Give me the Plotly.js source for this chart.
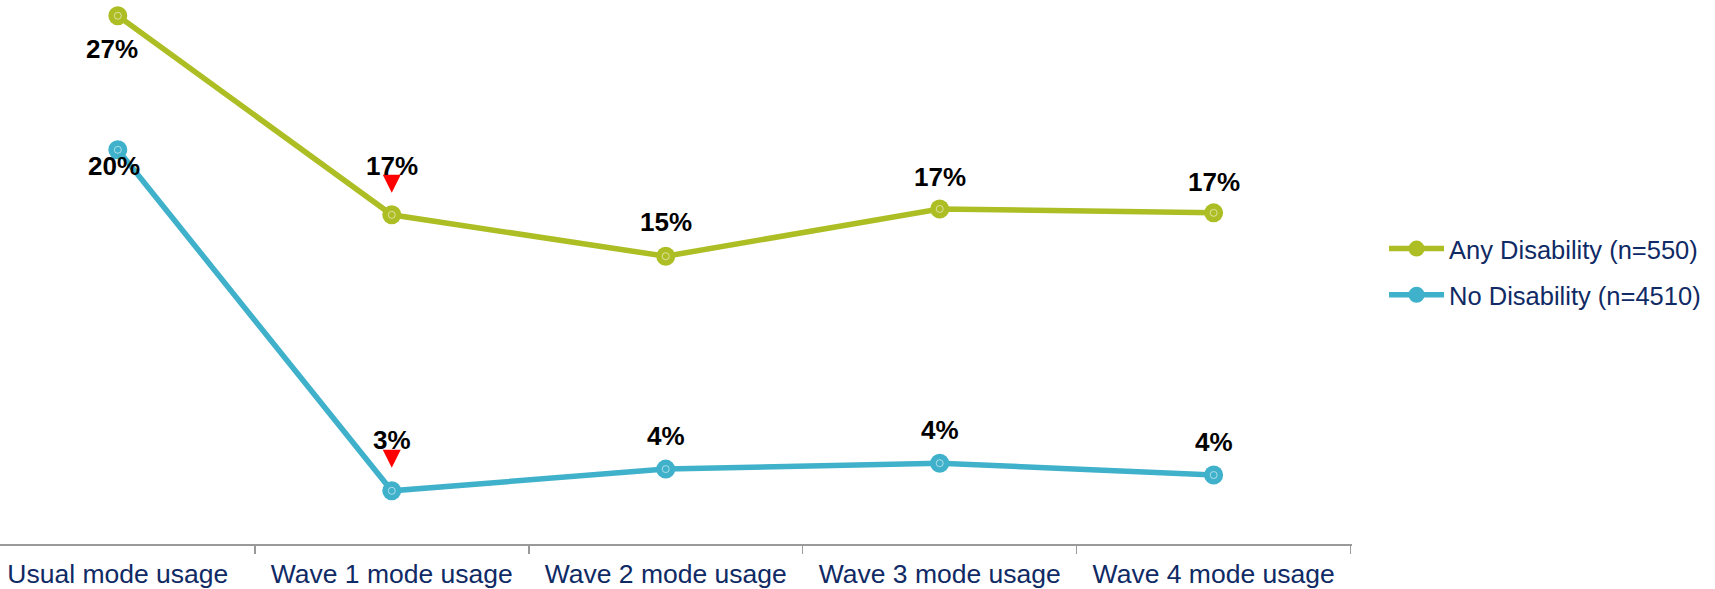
<!DOCTYPE html>
<html>
<head>
<meta charset="utf-8">
<script src="https://cdn.plot.ly/plotly-3.0.1.min.js"></script>
<style>
  html, body { margin: 0; padding: 0; background: #ffffff; }
  #chart { width: 1715px; height: 589px; }
</style>
</head>
<body>
<div id="chart"></div>
<script>
// ---- data ----
const categories = ['Usual mode usage', 'Wave 1 mode usage', 'Wave 2 mode usage', 'Wave 3 mode usage', 'Wave 4 mode usage'];
const anyDisability = [27.0, 16.9, 14.8, 17.2, 17.0];
const noDisability = [20.2, 2.9, 4.0, 4.3, 3.7];
const anyLabels = ['27%', '17%', '15%', '17%', '17%'];
const noLabels = ['20%', '3%', '4%', '4%', '4%'];
const anySigDown = [false, true, false, false, false];
const noSigDown = [false, true, false, false, false];
const seriesNames = ['Any Disability (n=550)', 'No Disability (n=4510)'];

// ---- style ----
const greenC = '#acbe24';
const blueC = '#40b1ca';
const navy = '#0f2a64';
const FONT = '"Liberation Sans", Arial, sans-serif';

function lineTrace(name, ys, color, group) {
  return {
    type: 'scatter', mode: 'lines+markers', name: name,
    x: categories, y: ys, legendgroup: group,
    line: { color: color, width: 5.5 },
    marker: { color: color, size: 19, symbol: 'circle' },
    cliponaxis: false, hoverinfo: 'skip'
  };
}
function ringTrace(ys, group) {
  return {
    type: 'scatter', mode: 'markers', x: categories, y: ys, showlegend: false, legendgroup: group,
    marker: { symbol: 'circle-open', size: 7, color: 'rgba(255,255,255,0.55)', line: { width: 1, color: 'rgba(255,255,255,0.55)' } },
    cliponaxis: false, hoverinfo: 'skip'
  };
}

const traces = [
  lineTrace(seriesNames[0], anyDisability, greenC, 'g1'),
  ringTrace(anyDisability, 'g1'),
  lineTrace(seriesNames[1], noDisability, blueC, 'g2'),
  ringTrace(noDisability, 'g2')
];

// data label offsets (px)
const anyShift = [-33, 49, 34, 32, 31];
const noShift = [-16, 51, 33, 33, 33];
const anyXShift = [-6, 0, 0, 0, 0];
const noXShift = [-4, 0, 0, 0, 0];

const annotations = [];
const shapes = [];
function addLabels(ys, labels, shifts, xshifts, sig, triTop) {
  ys.forEach((v, i) => {
    annotations.push({
      x: categories[i], y: v, xref: 'x', yref: 'y', text: '<b>' + labels[i] + '</b>',
      showarrow: false, xanchor: 'center', yanchor: 'middle',
      yshift: shifts[i], xshift: xshifts[i],
      font: { family: FONT, size: 26, color: '#000000' }
    });
    if (sig[i]) {
      // red "significantly lower" down-triangle, sized in pixels above the point
      shapes.push({
        type: 'path', xref: 'x', yref: 'y',
        xsizemode: 'pixel', ysizemode: 'pixel',
        xanchor: i, yanchor: v,
        path: 'M -9 ' + triTop + ' L 9 ' + triTop + ' L 0 ' + (triTop - 18) + ' Z',
        fillcolor: '#ff0000', line: { width: 0 }
      });
    }
  });
}
addLabels(anyDisability, anyLabels, anyShift, anyXShift, anySigDown, 40);
addLabels(noDisability, noLabels, noShift, noXShift, noSigDown, 41);

const layout = {
  width: 1715, height: 589,
  margin: { l: 0, r: 363, t: 0, b: 45, pad: 0 },
  paper_bgcolor: '#ffffff', plot_bgcolor: '#ffffff',
  showlegend: true,
  legend: {
    x: 1.0237, xanchor: 'left', y: 0.5, yanchor: 'middle',
    font: { family: FONT, size: 25.5, color: navy },
    tracegroupgap: 10, bgcolor: 'rgba(0,0,0,0)', borderwidth: 0,
    itemwidth: 55
  },
  xaxis: {
    type: 'category', range: [-0.43, 4.505],
    showline: true, linecolor: '#9a9a9a', linewidth: 1.5,
    ticks: 'outside', tickson: 'boundaries', ticklen: 8, tickcolor: '#9a9a9a', tickwidth: 1.5,
    ticklabelstandoff: 6,
    showgrid: false, zeroline: false,
    tickfont: { family: FONT, size: 26.5, color: navy },
    fixedrange: true
  },
  yaxis: {
    range: [0.2, 27.8], visible: false, showgrid: false, zeroline: false, fixedrange: true
  },
  annotations: annotations,
  shapes: shapes,
  font: { family: FONT }
};

Plotly.newPlot('chart', traces, layout, { displayModeBar: false, staticPlot: true });
</script>
</body>
</html>
